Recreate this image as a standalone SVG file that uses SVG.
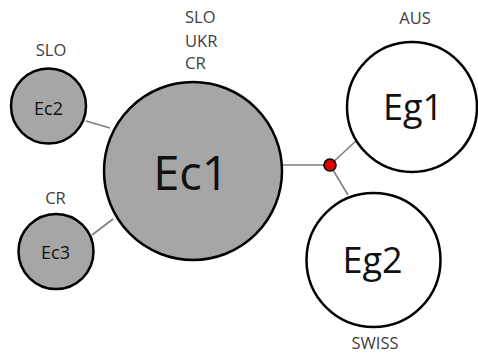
<svg xmlns="http://www.w3.org/2000/svg" width="478" height="355" viewBox="0 0 478 355">
<style>
.gray{fill:#a6a6a6;stroke:#000;stroke-width:2.5}
.white{fill:#fff;stroke:#000;stroke-width:2.5}
.lbl{font-family:"Open Sans","Noto Sans",sans-serif;fill:#404040;font-size:16.5px;text-anchor:middle}
.lbl2{font-family:"Open Sans","Noto Sans",sans-serif;fill:#404040;font-size:16.5px}
.nt{font-family:"Open Sans","Noto Sans",sans-serif;fill:#111;text-anchor:middle}
.edge{stroke:#7f7f7f;stroke-width:1.6;fill:none}
</style>
<rect width="478" height="355" fill="#fff"/>
<g id="connectors">
<line class="edge" x1="86" y1="121" x2="110" y2="128"/>
<line class="edge" x1="92" y1="235" x2="113" y2="219"/>
<line class="edge" x1="282" y1="165" x2="330" y2="165"/>
<line class="edge" x1="330" y1="165" x2="357" y2="140"/>
<line class="edge" x1="330" y1="165" x2="348" y2="195"/>
</g>
<g id="Ec1">
<circle class="gray" cx="193" cy="171" r="89"/>
<text class="nt" x="191" y="190" font-size="47">Ec1</text>
<text class="lbl2" x="185" y="23">SLO</text>
<text class="lbl2" x="185" y="47">UKR</text>
<text class="lbl2" x="185" y="69">CR</text>
</g>
<g id="Ec2">
<circle class="gray" cx="48.5" cy="106" r="37.5"/>
<text class="nt" x="48.5" y="115" font-size="18" fill="#333">Ec2</text>
<text class="lbl" x="51" y="56">SLO</text>
</g>
<g id="Ec3">
<circle class="gray" cx="56" cy="251.5" r="37.5"/>
<text class="nt" x="55.5" y="259" font-size="18">Ec3</text>
<text class="lbl" x="55.5" y="204">CR</text>
</g>
<g id="Eg1">
<circle class="white" cx="412" cy="107" r="65"/>
<text class="nt" x="413" y="120" font-size="36">Eg1</text>
<text class="lbl" x="415" y="24">AUS</text>
</g>
<g id="Eg2">
<circle class="white" cx="373.5" cy="260" r="67"/>
<text class="nt" x="372.5" y="273" font-size="36">Eg2</text>
<text class="lbl" x="375" y="349" font-size="16">SWISS</text>
</g>
<g id="junction">
<circle cx="330" cy="165" r="6" fill="#e00000" stroke="#000" stroke-width="1.6"/>
</g>
</svg>
